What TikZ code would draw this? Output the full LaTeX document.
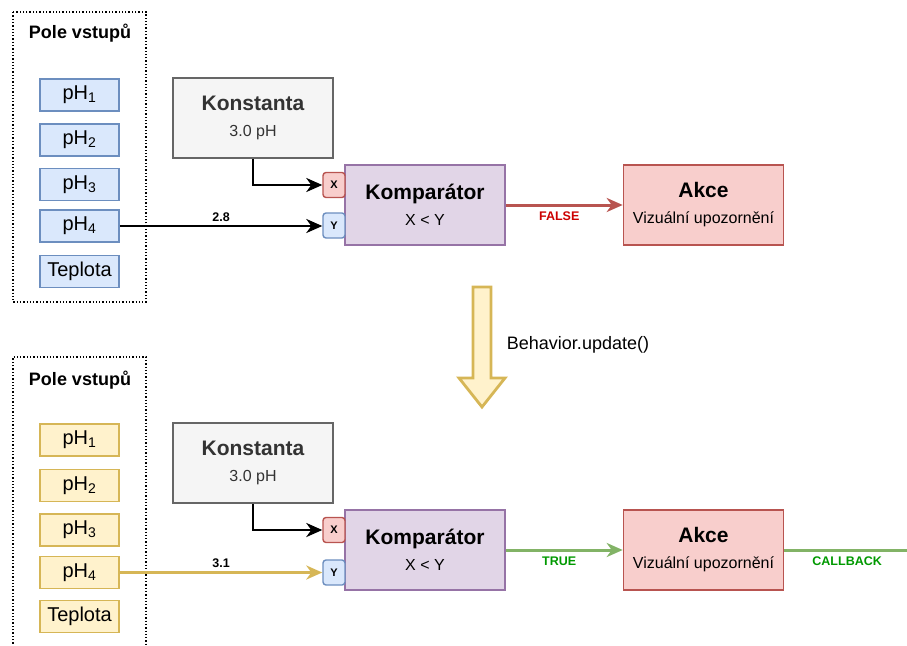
\documentclass[tikz,border=0pt]{standalone}
\usepackage{fontspec}
\setmainfont{Liberation Sans}
\usepackage{xcolor}
\usepackage{tikz}
\usetikzlibrary{arrows.meta,positioning,calc}

\definecolor{bluefill}{HTML}{DAE8FC}
\definecolor{bluedraw}{HTML}{6C8EBF}
\definecolor{yelfill}{HTML}{FFF2CC}
\definecolor{yeldraw}{HTML}{D6B656}
\definecolor{redfill}{HTML}{F8CECC}
\definecolor{reddraw}{HTML}{B85450}
\definecolor{purfill}{HTML}{E1D5E7}
\definecolor{purdraw}{HTML}{9673A6}
\definecolor{grayfill}{HTML}{F5F5F5}
\definecolor{graydraw}{HTML}{666666}
\definecolor{graytext}{HTML}{333333}
\definecolor{grndraw}{HTML}{82B366}
\definecolor{grntext}{HTML}{009900}
\definecolor{falsetext}{HTML}{CC0000}

\begin{document}
\begin{tikzpicture}[x=1pt, y=-1pt,
    frame/.style={draw=black, line width=1.3pt, dotted},
    ftitle/.style={font=\bfseries\fontsize{18}{22}\selectfont},
    inp/.style={rectangle, line width=1.6pt, minimum width=79pt, minimum height=32pt,
                inner sep=0pt, font=\fontsize{20}{24}\selectfont},
    blueinp/.style={inp, draw=bluedraw, fill=bluefill},
    yelinp/.style={inp, draw=yeldraw, fill=yelfill},
    blk/.style={rectangle, line width=1.6pt, minimum width=160pt, minimum height=80pt,
                inner sep=0pt, align=center, font=\fontsize{16}{26}\selectfont},
    kbox/.style={blk, draw=graydraw, fill=grayfill, text=graytext},
    cbox/.style={blk, draw=purdraw, fill=purfill},
    abox/.style={blk, draw=reddraw, fill=redfill},
    port/.style={rectangle, rounded corners=3pt, line width=1.4pt, minimum width=22pt,
                 minimum height=25pt, inner sep=0pt, font=\bfseries\fontsize{11}{13}\selectfont},
    xport/.style={port, draw=reddraw, fill=redfill},
    yport/.style={port, draw=bluedraw, fill=bluefill},
    tip/.style={-{Stealth[length=16pt, width=14pt, inset=5pt]}},
    arr/.style={tip, line width=2.8pt, black},
    lbl/.style={text=black, font=\bfseries\fontsize{12.5}{15}\selectfont}
]
    \useasboundingbox (0,0) rectangle (907,645);

    % ---- before update ----
    \draw[frame] (13,12) rectangle (146,302);
    \node[ftitle] (pole1) at (80,33) {Pole vstupů};
    \node[blueinp] (a1) at (79.5,95)    {pH\textsubscript{1}};
    \node[blueinp] (a2) at (79.5,140)   {pH\textsubscript{2}};
    \node[blueinp] (a3) at (79.5,184.5) {pH\textsubscript{3}};
    \node[blueinp] (a4) at (79.5,226)   {pH\textsubscript{4}};
    \node[blueinp] (a5) at (79.5,271.5) {Teplota};

    \node[kbox] (kon1) at (253,118) {{\bfseries\fontsize{21}{26}\selectfont Konstanta}\\3.0 pH};
    \node[cbox] (cmp1) at (425,205) {{\bfseries\fontsize{21}{26}\selectfont Komparátor}\\X < Y};
    \node[xport] (x1) at (334,185)   {X};
    \node[yport] (y1) at (334,225.5) {Y};
    \node[abox] (akc1) at (703.5,205) {{\bfseries\fontsize{21}{26}\selectfont Akce}\\Vizuální upozornění};

    \draw[arr] (kon1.south) |- (x1.west);
    \draw[arr] (a4.east) -- node[lbl, above]{2.8} (y1.west |- a4.east);
    \draw[tip, line width=3pt, reddraw] (cmp1) -- node[lbl, below=2pt, text=falsetext, xshift=-5pt]{FALSE} (akc1);

    % ---- update step ----
    \draw[line width=2.8pt, draw=yeldraw, fill=yelfill, line join=miter]
        (473,287) -- (491,287) -- (491,378) -- (505,378) -- (482,407)
        -- (459,378) -- (473,378) -- cycle;
    \node[font=\fontsize{18}{22}\selectfont] (upd) at (578,345) {Behavior.update()};

    % ---- after update ----
    \draw[frame] (13,660) -- (13,357) -- (146,357) -- (146,660);
    \node[ftitle] (pole2) at (80,380) {Pole vstupů};
    \node[yelinp] (b1) at (79.5,440)   {pH\textsubscript{1}};
    \node[yelinp] (b2) at (79.5,485.5) {pH\textsubscript{2}};
    \node[yelinp] (b3) at (79.5,530)   {pH\textsubscript{3}};
    \node[yelinp] (b4) at (79.5,572.5) {pH\textsubscript{4}};
    \node[yelinp] (b5) at (79.5,616.5) {Teplota};

    \node[kbox] (kon2) at (253,463) {{\bfseries\fontsize{21}{26}\selectfont Konstanta}\\3.0 pH};
    \node[cbox] (cmp2) at (425,550) {{\bfseries\fontsize{21}{26}\selectfont Komparátor}\\X < Y};
    \node[xport] (x2) at (334,530)   {X};
    \node[yport] (y2) at (334,572.5) {Y};
    \node[abox] (akc2) at (703.5,550) {{\bfseries\fontsize{21}{26}\selectfont Akce}\\Vizuální upozornění};
    \coordinate (cb) at (910,550);

    \draw[arr] (kon2.south) |- (x2.west);
    \draw[tip, line width=3pt, yeldraw] (b4.east) -- node[lbl, above]{3.1} (y2.west);
    \draw[tip, line width=3pt, grndraw] (cmp2) -- node[lbl, below=2pt, text=grntext, xshift=-5pt]{TRUE} (akc2);
    \draw[line width=3pt, grndraw] (akc2) -- node[lbl, below=2pt, text=grntext]{CALLBACK} (cb);
\end{tikzpicture}
\end{document}
